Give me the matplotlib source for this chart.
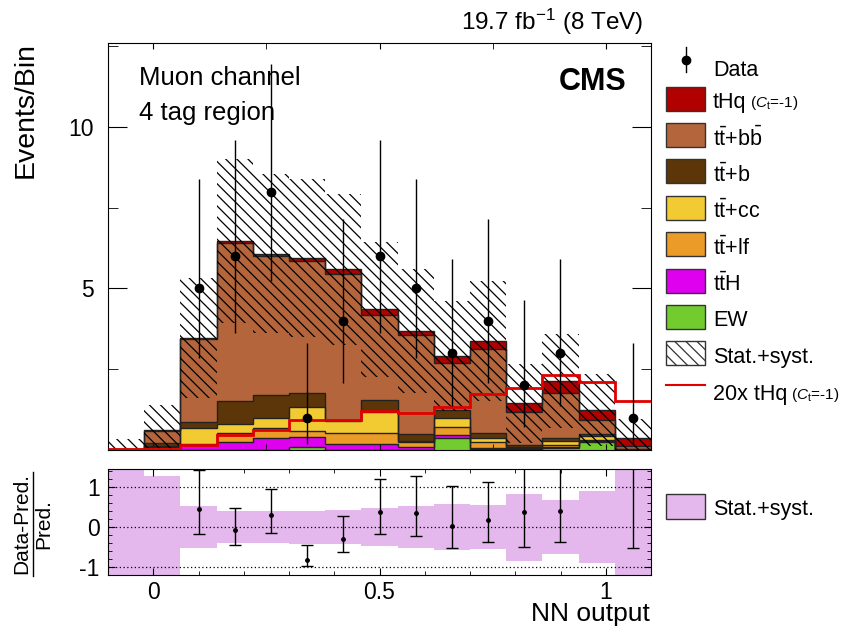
import numpy as np
import matplotlib
matplotlib.use("Agg")
import matplotlib.pyplot as plt
from matplotlib.ticker import MultipleLocator, FixedLocator
from matplotlib.patches import Rectangle
from matplotlib.lines import Line2D

plt.rcParams['font.family'] = ['Liberation Sans', 'DejaVu Sans']
plt.rcParams['mathtext.fontset'] = 'custom'
plt.rcParams['mathtext.rm'] = 'Liberation Sans'
plt.rcParams['mathtext.it'] = 'Liberation Sans:italic'
plt.rcParams['axes.unicode_minus'] = False
plt.rcParams['hatch.linewidth'] = 0.9

# binning of the NN output (15 bins of width 0.08)
edges = np.round(np.linspace(-0.1, 1.1, 16), 3)
centers = 0.5 * (edges[1:] + edges[:-1])

# stacked backgrounds, bottom to top
ew   = [0.00, 0.00, 0.00, 0.00, 0.00, 0.10, 0.00, 0.00, 0.00, 0.36, 0.02, 0.01, 0.07, 0.26, 0.00]
tth  = [0.00, 0.03, 0.15, 0.25, 0.38, 0.30, 0.20, 0.20, 0.09, 0.10, 0.04, 0.01, 0.02, 0.01, 0.00]
ttlf = [0.00, 0.05, 0.04, 0.29, 0.31, 0.19, 0.34, 0.34, 0.16, 0.25, 0.19, 0.03, 0.05, 0.03, 0.01]
ttcc = [0.00, 0.05, 0.50, 0.28, 0.29, 0.74, 0.36, 0.65, 0.03, 0.27, 0.11, 0.03, 0.14, 0.14, 0.01]
ttb  = [0.00, 0.10, 0.19, 0.70, 0.72, 0.44, 0.03, 0.36, 0.21, 0.25, 0.16, 0.09, 0.08, 0.05, 0.01]
ttbb = [0.03, 0.36, 2.56, 4.90, 4.30, 4.08, 4.51, 2.62, 3.06, 1.47, 2.60, 1.02, 1.42, 0.43, 0.10]
thq  = [0.01, 0.02, 0.02, 0.05, 0.08, 0.10, 0.15, 0.18, 0.13, 0.21, 0.25, 0.25, 0.36, 0.31, 0.23]
# total stat.+syst. uncertainty
unc  = [0.30, 0.78, 1.85, 2.55, 2.45, 2.45, 2.35, 2.10, 1.93, 1.70, 1.86, 1.21, 1.46, 1.11, 0.59]
# 20x tHq signal line
thq20 = [0.02, 0.02, 0.14, 0.45, 0.62, 0.92, 0.92, 1.20, 1.14, 1.33, 1.74, 1.91, 2.31, 2.11, 1.52]

# observed data with 68% Poisson intervals
data    = [0, 0, 5, 6, 8, 1, 4, 6, 5, 3, 4, 2, 3, 0, 1]
data_lo = [0, 0, 2.840, 3.620, 5.232, 0.173, 2.086, 3.620, 2.840, 1.367, 2.086, 0.708, 1.367, 0, 0.173]
data_hi = [1.841, 1.841, 8.382, 9.584, 11.944, 3.300, 7.163, 9.584, 8.382, 5.918, 7.163, 4.638, 5.918, 1.841, 3.300]

colors = {
    'EW': '#72cc30', 'ttH': '#e000f0', 'ttlf': '#ea9b28', 'ttcc': '#f2cb33',
    'ttb': '#5c3608', 'ttbb': '#b5653b', 'tHq': '#b00000',
}
layers = [(ew, 'EW'), (tth, 'ttH'), (ttlf, 'ttlf'), (ttcc, 'ttcc'),
          (ttb, 'ttb'), (ttbb, 'ttbb'), (thq, 'tHq')]
band_color = '#e4b8ec'

W, H = 856, 631
fig = plt.figure(figsize=(W / 100, H / 100), dpi=100)
ax = fig.add_axes([108 / W, 1 - 450 / H, 543 / W, 407 / H])
rax = fig.add_axes([108 / W, 1 - 575 / H, 543 / W, 106 / H])

# ---- main panel ----
bottom = np.zeros(len(centers))
for vals, key in layers:
    top = bottom + np.array(vals)
    ax.stairs(top, edges, baseline=bottom, fill=True, color=colors[key], lw=0, zorder=1)
    ax.stairs(top, edges, baseline=None, color='#222222', lw=1.0, zorder=2)
    bottom = top
total = bottom
unc = np.array(unc)

ax.stairs(total + unc, edges, baseline=np.clip(total - unc, 0, None), fill=True,
          facecolor='none', edgecolor='black', hatch='\\\\\\', lw=0, zorder=3)
ax.stairs(thq20, edges, baseline=None, color='#e00000', lw=2, zorder=4)

data = np.array(data, dtype=float)
lo = np.array(data_lo)
hi = np.array(data_hi)
m = data > 0
ax.errorbar(centers[m], data[m], yerr=[data[m] - lo[m], hi[m] - data[m]], fmt='o',
            color='black', ms=6, elinewidth=1, capsize=0, zorder=5)

ax.set_xlim(-0.1, 1.1)
ax.set_ylim(0, 12.6)
ax.yaxis.set_major_locator(FixedLocator([5, 10]))
ax.yaxis.set_minor_locator(FixedLocator([2.5, 7.5, 12.5]))
ax.xaxis.set_major_locator(MultipleLocator(0.5))
ax.xaxis.set_minor_locator(MultipleLocator(0.25))
ax.tick_params(axis='y', which='major', direction='in', length=14, left=True, right=True,
               labelsize=16.5, pad=10)
ax.tick_params(axis='y', which='minor', direction='in', length=7, left=True, right=True)
ax.tick_params(axis='x', which='both', direction='in', length=4, top=True, bottom=True,
               labelbottom=False)

# ---- ratio panel ----
rel = np.clip(unc / total, 0, 5)
rax.stairs(rel, edges, baseline=-rel, fill=True, color=band_color, lw=0, zorder=1)
for v in (-1, 0, 1):
    rax.axhline(v, color='black', ls=(0, (1, 2)), lw=0.9, zorder=2)
ratio = (data - total) / total
rax.errorbar(centers[m], ratio[m], yerr=[(data[m] - lo[m]) / total[m], (hi[m] - data[m]) / total[m]],
             fmt='o', color='black', ms=2.5, elinewidth=1, capsize=4, capthick=1, zorder=3)
rax.set_xlim(-0.1, 1.1)
rax.set_ylim(-1.2, 1.46)
rax.yaxis.set_major_locator(FixedLocator([-1, 0, 1]))
rax.yaxis.set_minor_locator(MultipleLocator(0.2))
rax.xaxis.set_major_locator(MultipleLocator(0.5))
rax.xaxis.set_minor_locator(MultipleLocator(0.1))
rax.xaxis.set_major_formatter(plt.FuncFormatter(lambda v, p: '%g' % v))
rax.tick_params(axis='both', which='major', direction='in', length=5, top=True, right=True,
                labelsize=16.5)
rax.tick_params(axis='both', which='minor', direction='in', length=3, top=True, right=True)
rax.tick_params(axis='y', pad=6)
rax.tick_params(axis='x', pad=4)

# ---- texts ----
fig.text(643 / W, 1 - 30 / H, r'19.7 fb$^{\mathregular{-1}}$ (8 TeV)', ha='right', va='baseline', fontsize=17.5)
fig.text(26 / W, 1 - 42 / H, 'Events/Bin', rotation=90, ha='center', va='top', fontsize=20.5)
fig.text(139 / W, 1 - 85 / H, 'Muon channel', ha='left', va='baseline', fontsize=18.5)
fig.text(139 / W, 1 - 120 / H, '4 tag region', ha='left', va='baseline', fontsize=18.5)
fig.text(627 / W, 1 - 90 / H, 'CMS', ha='right', va='baseline', fontsize=22, fontweight='bold')
fig.text(650 / W, 1 - 621 / H, 'NN output', ha='right', va='baseline', fontsize=19)

# ratio y label as a fraction
yc = 1 - 524 / H
fig.text(22 / W, yc, 'Data-Pred.', rotation=90, ha='center', va='center', fontsize=15)
fig.text(44 / W, yc, 'Pred.', rotation=90, ha='center', va='center', fontsize=15)
fig.add_artist(Line2D([33 / W, 33 / W], [yc - 52 / H, yc + 52 / H], color='black', lw=1))

# ---- legends (pixel coordinates overlay) ----
lax = fig.add_axes([0, 0, 1, 1])
lax.set_xlim(0, W)
lax.set_ylim(H, 0)
lax.axis('off')

bx, bw, bh = 666, 39, 24
tx = 713
lax.plot([686, 686], [47, 72], color='black', lw=1)
lax.plot([686], [60], 'o', color='black', ms=6)
lax.text(tx, 71, 'Data', fontsize=15.5, va='center')

leg = [
    ('tHq', 'tHq', True),
    ('ttbb', r'$\mathrm{t\bar{t}}$+b$\mathrm{\bar{b}}$', False),
    ('ttb', r'$\mathrm{t\bar{t}}$+b', False),
    ('ttcc', r'$\mathrm{t\bar{t}}$+cc', False),
    ('ttlf', r'$\mathrm{t\bar{t}}$+lf', False),
    ('ttH', r'$\mathrm{t\bar{t}}$H', False),
    ('EW', 'EW', False),
]
y0, dy = 98.5, 36.4
for i, (key, lab, small) in enumerate(leg):
    yc_ = y0 + i * dy
    lax.add_patch(Rectangle((bx, yc_ - bh / 2), bw, bh, facecolor=colors[key],
                            edgecolor='#333333', lw=1))
    t = lax.text(tx, yc_ + 4, lab, fontsize=15.5, va='center')
    if small:
        lax.annotate(r' ($C_{\mathrm{t}}$=-1)', xy=(1, 0.5), xycoords=t, fontsize=11,
                     va='center', ha='left')

ys = y0 + 7 * dy
lax.add_patch(Rectangle((bx, ys - bh / 2), bw, bh, facecolor='white', edgecolor='#333333',
                        hatch='\\\\\\', lw=1))
lax.text(tx, ys + 4, 'Stat.+syst.', fontsize=15.5, va='center')
yl = y0 + 8 * dy
lax.plot([bx, bx + bw], [yl - 5, yl - 5], color='#e00000', lw=1.5)
t = lax.text(tx, yl + 5, '20x tHq', fontsize=15.5, va='center')
lax.annotate(r' ($C_{\mathrm{t}}$=-1)', xy=(1, 0.5), xycoords=t, fontsize=11, va='center', ha='left')

# ratio legend
lax.add_patch(Rectangle((bx, 494), bw, 25, facecolor=band_color, edgecolor='#333333', lw=1))
lax.text(tx, 510, 'Stat.+syst.', fontsize=15.5, va='center')

fig.savefig('out.png', dpi=100)
